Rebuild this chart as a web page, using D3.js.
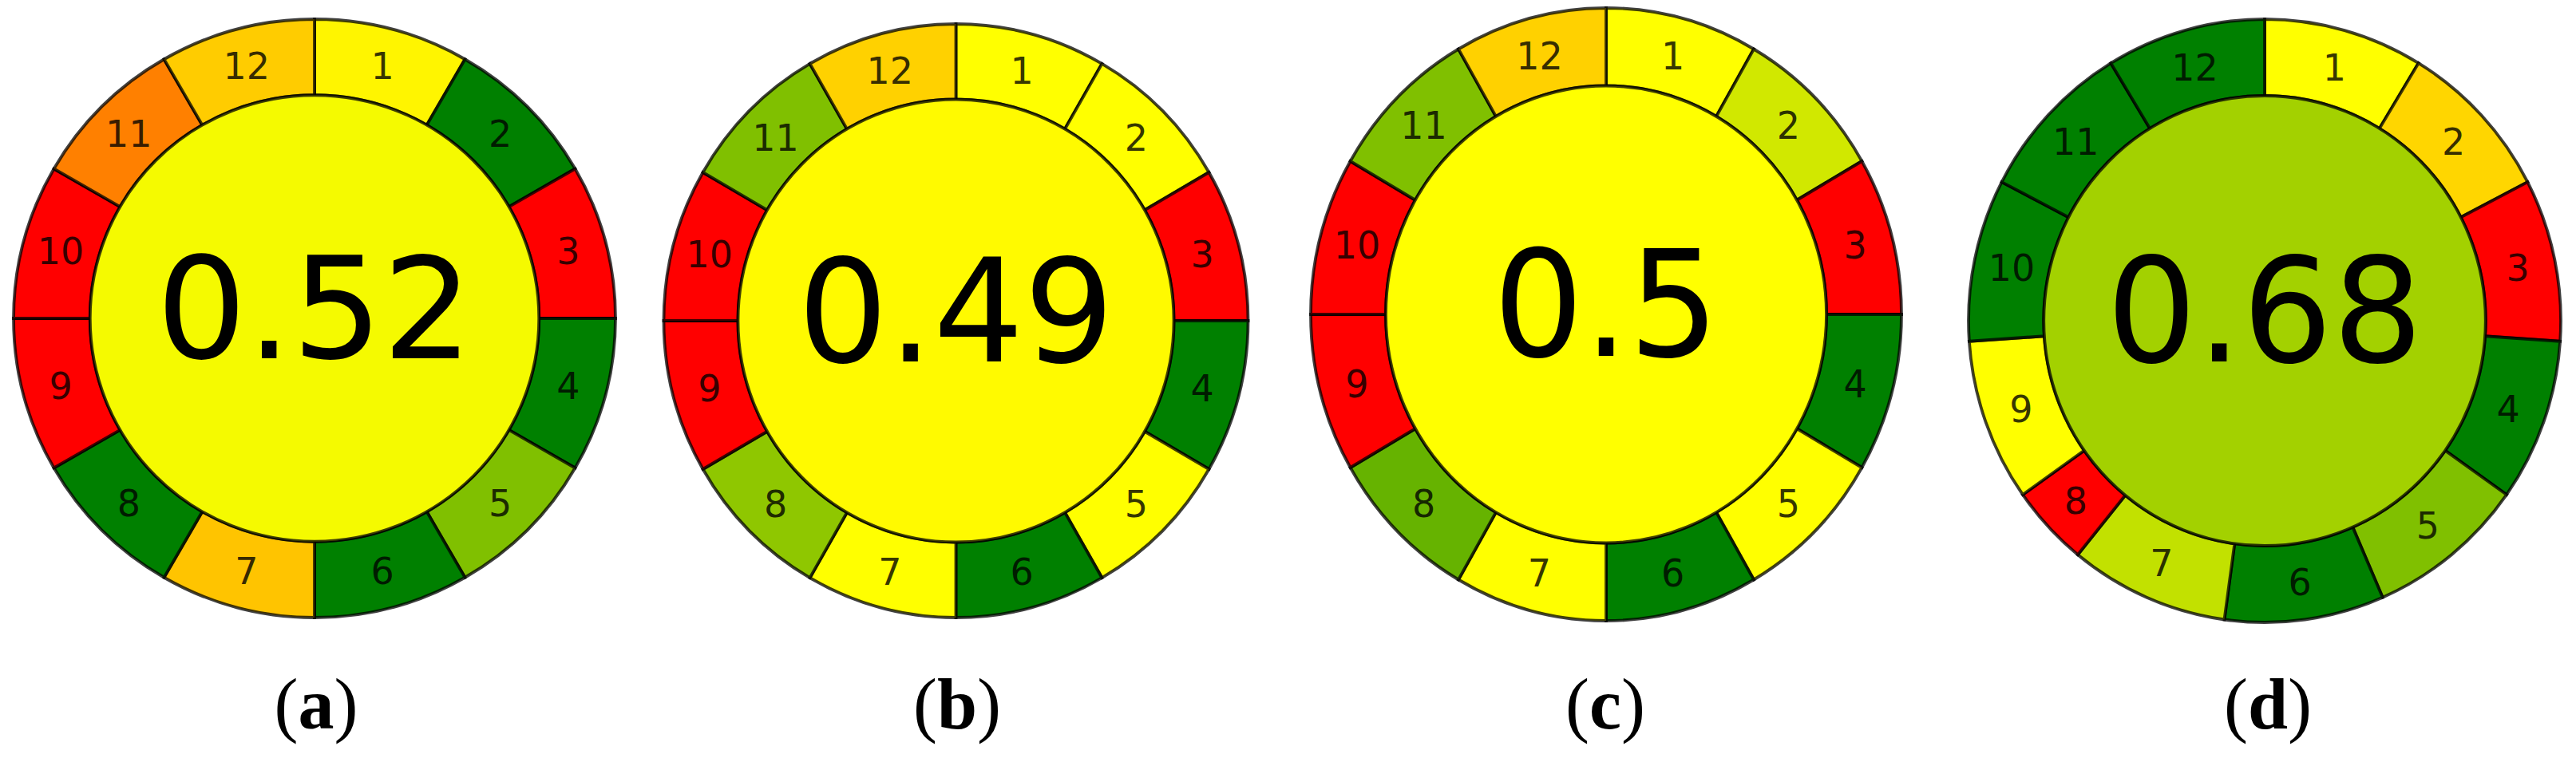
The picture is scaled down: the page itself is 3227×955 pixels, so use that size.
<!DOCTYPE html>
<html>
<head>
<meta charset="utf-8">
<script src="https://cdn.jsdelivr.net/npm/d3@7"></script>
<style>
  html, body { margin: 0; padding: 0; background: #ffffff; }
  svg { display: block; }
</style>
</head>
<body>
<svg id="chart" width="3227" height="955"></svg>
<script>
// ---------------- DATA ----------------
const panelLabels = ["a", "b", "c", "d"];
const totalScores = [0.52, 0.49, 0.5, 0.68];
const segmentNames = ["1", "2", "3", "4", "5", "6", "7", "8", "9", "10", "11", "12"];

const scoresA = [0.48, 1.0, 0.0, 1.0, 0.75, 1.0, 0.385, 1.0, 0.0, 0.0, 0.25, 0.4];
const scoresB = [0.5, 0.5, 0.0, 1.0, 0.5, 1.0, 0.5, 0.72, 0.0, 0.0, 0.75, 0.41];
const scoresC = [0.5, 0.59, 0.0, 1.0, 0.5, 1.0, 0.5, 0.8, 0.0, 0.0, 0.75, 0.41];
const scoresD = [0.5, 0.42, 0.0, 1.0, 0.75, 1.0, 0.62, 0.0, 0.5, 1.0, 1.0, 1.0];

const weightsA = [2, 2, 2, 2, 2, 2, 2, 2, 2, 2, 2, 2];
const weightsB = [2, 2, 2, 2, 2, 2, 2, 2, 2, 2, 2, 2];
const weightsC = [2, 2, 2, 2, 2, 2, 2, 2, 2, 2, 2, 2];
const weightsD = [2, 2, 2, 2, 2, 2, 2, 1, 2, 2, 2, 2];

const segmentScores = [scoresA, scoresB, scoresC, scoresD];
const segmentWeights = [weightsA, weightsB, weightsC, weightsD];

// ---------------- LAYOUT ----------------
const layout = [
  { cx: 394,    cy: 399, rx: 377, ry: 375, lx: 396 },
  { cx: 1197.5, cy: 402, rx: 366, ry: 372, lx: 1199 },
  { cx: 2012,   cy: 394, rx: 370, ry: 384, lx: 2011 },
  { cx: 2837,   cy: 402, rx: 371, ry: 378, lx: 2841 }
];
const innerRatio = 0.746;
const captionBaseline = 913;

const color = d3.scaleLinear()
  .domain([0, 0.5, 1])
  .range(["#ff0000", "#ffff00", "#008000"])
  .interpolate(d3.interpolateRgb)
  .clamp(true);

const svg = d3.select("#chart");

panelLabels.forEach((lab, i) => {
  const L = layout[i];
  const R = L.rx;
  const rIn = R * innerRatio;
  const data = segmentNames.map((name, k) => ({
    name, score: segmentScores[i][k], weight: segmentWeights[i][k]
  }));

  const pie = d3.pie().value(d => d.weight).sort(null)
    .startAngle(0).endAngle(2 * Math.PI);
  const arcs = pie(data);
  const arc = d3.arc().innerRadius(rIn).outerRadius(R);
  const labelArc = d3.arc().innerRadius((rIn + R) / 2).outerRadius((rIn + R) / 2);

  const g = svg.append("g")
    .attr("transform", `translate(${L.cx},${L.cy}) scale(1,${L.ry / L.rx})`);

  g.selectAll("path.seg")
    .data(arcs)
    .join("path")
    .attr("class", "seg")
    .attr("d", arc)
    .attr("fill", d => color(d.data.score))
    .attr("stroke", "#000")
    .attr("stroke-opacity", 0.75)
    .attr("stroke-width", 3.8)
    .attr("stroke-linejoin", "miter");

  g.selectAll("text.seglab")
    .data(arcs)
    .join("text")
    .attr("class", "seglab")
    .attr("transform", d => `translate(${labelArc.centroid(d)})`)
    .attr("text-anchor", "middle")
    .attr("dy", "0.36em")
    .attr("font-family", "DejaVu Sans, sans-serif")
    .attr("font-size", 46)
    .attr("fill", "#000")
    .attr("fill-opacity", 0.8)
    .text(d => d.data.name);

  g.append("circle")
    .attr("r", rIn)
    .attr("fill", color(totalScores[i]))
    .attr("stroke", "#000")
    .attr("stroke-opacity", 0.75)
    .attr("stroke-width", 3.8);

  g.append("text")
    .attr("text-anchor", "middle")
    .attr("y", 50)
    .attr("font-family", "DejaVu Sans, sans-serif")
    .attr("font-size", 178)
    .attr("fill", "#000")
    .text(String(totalScores[i]));

  const cap = svg.append("text")
    .attr("x", L.lx)
    .attr("y", captionBaseline)
    .attr("text-anchor", "middle")
    .attr("font-family", "Liberation Serif, Times New Roman, serif")
    .attr("font-size", 90)
    .attr("fill", "#000");
  cap.append("tspan").text("(");
  cap.append("tspan").attr("font-weight", "bold").text(lab);
  cap.append("tspan").text(")");
});
</script>
</body>
</html>
